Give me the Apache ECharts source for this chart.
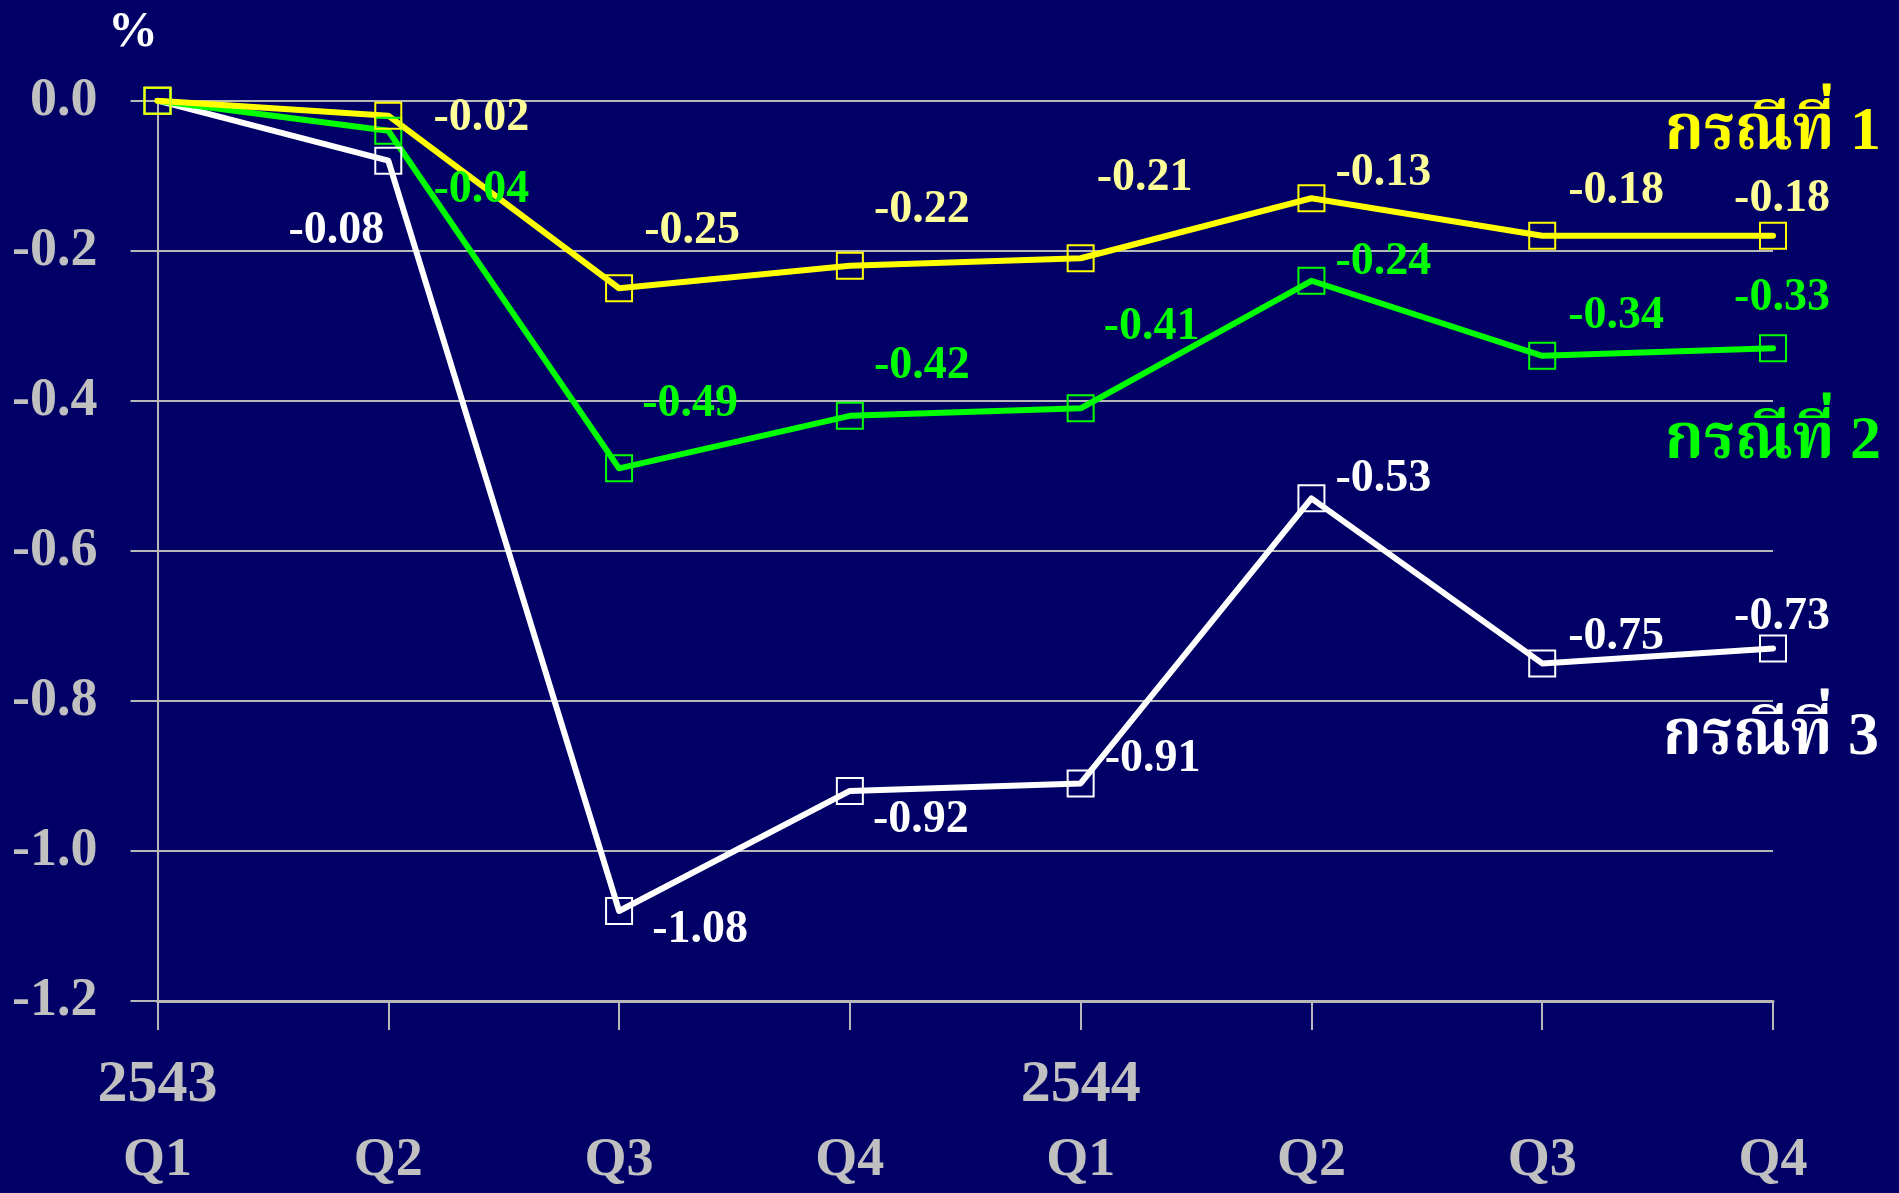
<!DOCTYPE html>
<html>
<head>
<meta charset="utf-8">
<script src="https://cdn.jsdelivr.net/npm/echarts@6/dist/echarts.min.js"></script>
<style>
  html, body { margin: 0; padding: 0; background: #000066; }
  #chart { width: 1899px; height: 1193px; }
</style>
</head>
<body>
<div id="chart"></div>
<script>
// Quarterly change (%) under three scenarios, 2543–2544
const quarters = ['Q1', 'Q2', 'Q3', 'Q4', 'Q1', 'Q2', 'Q3', 'Q4'];
const years = ['2543', '', '', '', '2544', '', '', ''];
const yTickLabels = ['-1.2', '-1.0', '-0.8', '-0.6', '-0.4', '-0.2', '0.0'];

const seriesNames = ['กรณีที่ 1', 'กรณีที่ 2', 'กรณีที่ 3'];
const case1 = [0, -0.02, -0.25, -0.22, -0.21, -0.13, -0.18, -0.18];
const case2 = [0, -0.04, -0.49, -0.42, -0.41, -0.24, -0.34, -0.33];
const case3 = [0, -0.08, -1.08, -0.92, -0.91, -0.53, -0.75, -0.73];

// Where each value label sits relative to its point (label centre, px)
const labelShift1 = [null, [93, 2], [73, -57], [72, -56], [64, -80], [72, -25], [74, -45], [9, -37]];
const labelShift2 = [null, [93, 59], [71, -64], [72, -50], [71, -81], [72, -19], [74, -40], [9, -50]];
const labelShift3 = [null, [-52, 70], [81, 19], [71, 29], [72, -24], [72, -19], [74, -26], [9, -31]];

const SERIF = "'Liberation Serif', 'Times New Roman', serif";
const THAI = "'Liberation Serif', 'Noto Serif Thai', 'Noto Sans Thai', 'Loma', 'Garuda', serif";
const AXIS_GREY = '#b8b8b8';

function buildData(values, shifts, labelColor) {
  return values.map((v, i) => {
    const item = { value: v };
    if (shifts[i]) {
      item.label = {
        show: true,
        position: 'inside',
        offset: shifts[i],
        formatter: v.toFixed(2),
        color: labelColor,
        fontFamily: SERIF,
        fontWeight: 'bold',
        fontSize: 46
      };
    } else {
      item.label = { show: false };
    }
    return item;
  });
}

function makeSeries(name, values, shifts, lineColor, labelColor, endShift) {
  return {
    name: name,
    type: 'line',
    data: buildData(values, shifts, labelColor),
    symbol: 'rect',
    symbolSize: 26,
    showAllSymbol: true,
    lineStyle: { color: lineColor, width: 6, cap: 'round', join: 'round' },
    itemStyle: { color: 'rgba(0,0,0,0)', borderColor: lineColor, borderWidth: 2 },
    emphasis: { disabled: true },
    endLabel: {
      show: true,
      formatter: name,
      distance: 0,
      align: 'right',
      verticalAlign: 'middle',
      offset: endShift,
      color: lineColor,
      fontFamily: THAI,
      fontWeight: 'bold',
      fontSize: 62
    }
  };
}

const chart = echarts.init(document.getElementById('chart'), null, { renderer: 'canvas' });

chart.setOption({
  backgroundColor: '#000066',
  animation: false,
  grid: { left: 157.5, right: 126, top: 100.7, bottom: 192, containLabel: false },
  graphic: [{
    type: 'text',
    left: 108,
    top: 8,
    style: {
      text: '%',
      fill: '#ffffff',
      font: "bold 50px 'Liberation Serif', serif"
    }
  }],
  xAxis: {
    type: 'category',
    boundaryGap: false,
    data: quarters.map((q, i) => i),
    axisLine: { show: true, onZero: false, lineStyle: { color: AXIS_GREY, width: 3 } },
    axisTick: { show: true, length: 29, interval: 0, lineStyle: { color: AXIS_GREY, width: 2 } },
    splitLine: { show: false },
    axisLabel: {
      interval: 0,
      margin: 46,
      formatter: (v, idx) => '{y|' + (years[idx] || ' ') + '}\n{q|' + quarters[idx] + '}',
      rich: {
        y: { fontFamily: SERIF, fontWeight: 'bold', fontSize: 60, lineHeight: 76, color: '#c0c0c0' },
        q: { fontFamily: SERIF, fontWeight: 'bold', fontSize: 54, lineHeight: 76, color: '#c0c0c0' }
      }
    }
  },
  yAxis: {
    type: 'value',
    min: -1.2,
    max: 0,
    interval: 0.2,
    axisLine: { show: true, lineStyle: { color: AXIS_GREY, width: 2 } },
    axisTick: { show: true, length: 27, lineStyle: { color: AXIS_GREY, width: 2 } },
    splitLine: { show: true, lineStyle: { color: AXIS_GREY, width: 2 } },
    axisLabel: {
      margin: 60,
      formatter: (v) => yTickLabels[Math.round((v + 1.2) / 0.2)],
      color: '#c0c0c0',
      fontFamily: SERIF,
      fontWeight: 'bold',
      fontSize: 54
    }
  },
  series: [
    makeSeries(seriesNames[2], case3, labelShift3, '#ffffff', '#ffffff', [106, 90]),
    makeSeries(seriesNames[1], case2, labelShift2, '#00ff00', '#00ff00', [108, 94]),
    makeSeries(seriesNames[0], case1, labelShift1, '#ffff00', '#ffff99', [108, -103])
  ]
});
</script>
</body>
</html>
